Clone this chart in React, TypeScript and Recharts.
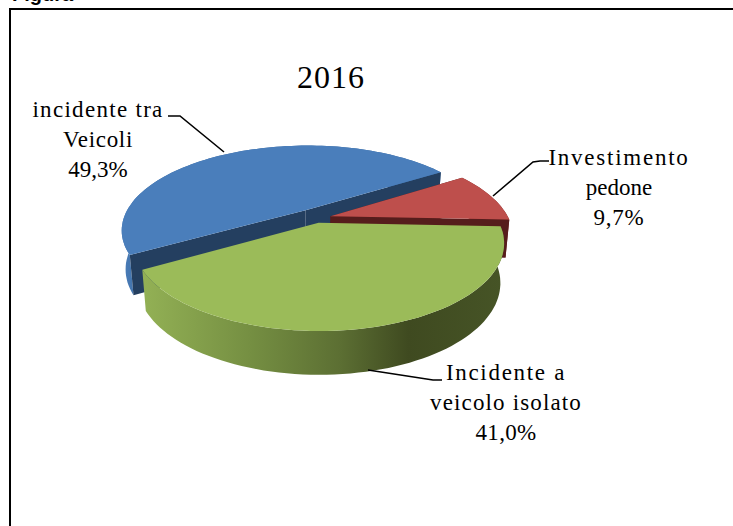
import React from "react";
import { PieChart, Pie } from "recharts";

const categories = ["incidente tra Veicoli", "Investimento pedone", "Incidente a veicolo isolato"];
const shares = [49.3, 9.7, 41.0];
const labelLines = [["incidente tra", "Veicoli"], ["Investimento", "pedone"], ["Incidente a", "veicolo isolato"]];
const chartTitle = "2016";

const data = categories.map((name, i) => ({ name, value: shares[i], lines: labelLines[i] }));

const W = 733, H = 526;
const SQUASH = 81 / 178, PERSP = 0.228;
const EXPLODE = [0.115, 0.085, 0.06];
const SCALE = [1.025, 1, 1];
const FONT = "'Liberation Serif', serif";

const looks = [
  { top: "#4A7EBB", wall: "url(#wall0)", cut: "#243F60" },
  { top: "#BE4F4C", wall: "#7A2A28", cut: "#561D1C" },
  { top: "#9BBB59", wall: "url(#wall2)", cut: null },
];

const labelLayout = [
  { cx: 98, y: 117, spacing: [1.3, 0.7, 0], leader: "M168 116 L180 116 L224 152" },
  { cx: 619, y: 165, spacing: [1.75, 0, 0.8], leader: "M549 161 L540 161 L533 162 L493 196" },
  { cx: 506, y: 380, spacing: [1.7, 1.15, 0.3], leader: "M442 380 L433 380 L368 370" },
];

const rad = (d: number) => (d * Math.PI) / 180;

function Slice3D(props: any) {
  const { cx, cy, outerRadius: R, startAngle, endAngle, index } = props;
  const look = looks[index];
  const mid = rad((startAngle + endAngle) / 2);
  const e = EXPLODE[index];
  const k = SCALE[index];
  const ox = e * Math.cos(mid), oy = e * Math.sin(mid);

  const project = (X: number, Y: number, lower: boolean) => {
    const w = 1 + PERSP * Y;
    const s = lower ? 0.98 : 1;
    const depth = lower ? 38 + (1 - w) * 24 : 0;
    return [cx + (R * X * s) / w, cy - (R * SQUASH * Y) / w + depth];
  };
  const rim = (a: number, lower: boolean) => project(ox + k * Math.cos(rad(a)), oy + k * Math.sin(rad(a)), lower);
  const apex = (lower: boolean) => project(ox, oy, lower);

  const steps = Math.max(8, Math.ceil(Math.abs(startAngle - endAngle) / 2));
  const angles = Array.from({ length: steps + 1 }, (_, n) => startAngle + ((endAngle - startAngle) * n) / steps);
  const path = (pts: number[][]) => "M" + pts.map((p) => `${p[0].toFixed(1)} ${p[1].toFixed(1)}`).join(" L") + " Z";

  const upperArc = angles.map((a) => rim(a, false));
  const lowerArc = angles.map((a) => rim(a, true));

  return (
    <g>
      <defs>
        <linearGradient id="wall0" gradientUnits="userSpaceOnUse" x1="120" x2="145" y1="0" y2="0">
          <stop offset="0" stopColor="#4A7EBB" />
          <stop offset="1" stopColor="#3F6DA2" />
        </linearGradient>
        <linearGradient id="wall2" gradientUnits="userSpaceOnUse" x1="142" x2="502" y1="0" y2="0">
          <stop offset="0" stopColor="#93B155" />
          <stop offset="0.3" stopColor="#758F42" />
          <stop offset="0.55" stopColor="#5C6F33" />
          <stop offset="0.74" stopColor="#3F4A20" />
          <stop offset="1" stopColor="#465426" />
        </linearGradient>
      </defs>
      <path d={path([...upperArc, ...[...lowerArc].reverse()])} fill={look.wall} />
      {look.cut && <path d={path([apex(false), rim(startAngle, false), rim(startAngle, true), apex(true)])} fill={look.cut} />}
      {look.cut && <path d={path([apex(false), rim(endAngle, false), rim(endAngle, true), apex(true)])} fill={look.cut} />}
      <path d={path([apex(false), ...upperArc])} fill={look.top} />
    </g>
  );
}

function SliceLabel(props: any) {
  const { index, value, payload } = props;
  const layout = labelLayout[index];
  const rows: string[] = [...(payload.lines ?? data[index].lines), `${value.toFixed(1).replace(".", ",")}%`];
  return (
    <g>
      <path d={layout.leader} fill="none" stroke="#000" strokeWidth={1.6} />
      {rows.map((row, r) => (
        <text
          key={r}
          x={layout.cx}
          y={layout.y + r * 30}
          textAnchor="middle"
          fontFamily={FONT}
          fontSize={23}
          letterSpacing={layout.spacing[r]}
          fill="#000"
        >
          {row}
        </text>
      ))}
    </g>
  );
}

export default function App() {
  return (
    <div style={{ position: "absolute", left: 0, top: 0, width: W, height: H, overflow: "hidden", background: "#fff" }}>
      <PieChart width={W} height={H} margin={{ top: 0, right: 0, bottom: 0, left: 0 }}>
        <rect x={9} y={8} width={W - 9} height={2} fill="#000" />
        <rect x={9} y={8} width={2} height={H - 8} fill="#000" />
        <text x={12} y={0.5} fontFamily="'Liberation Sans', sans-serif" fontWeight={700} fontSize={20} fill="#000">
          Figura
        </text>
        <text x={297} y={88} fontFamily={FONT} fontSize={32} letterSpacing={1} fill="#000">
          {chartTitle}
        </text>
        <Pie
          data={data}
          dataKey="value"
          nameKey="name"
          cx={316}
          cy={218}
          innerRadius={0}
          outerRadius={178}
          startAngle={210}
          endAngle={-150}
          stroke="none"
          isAnimationActive={false}
          shape={Slice3D}
          label={SliceLabel}
          labelLine={false}
        />
      </PieChart>
    </div>
  );
}
